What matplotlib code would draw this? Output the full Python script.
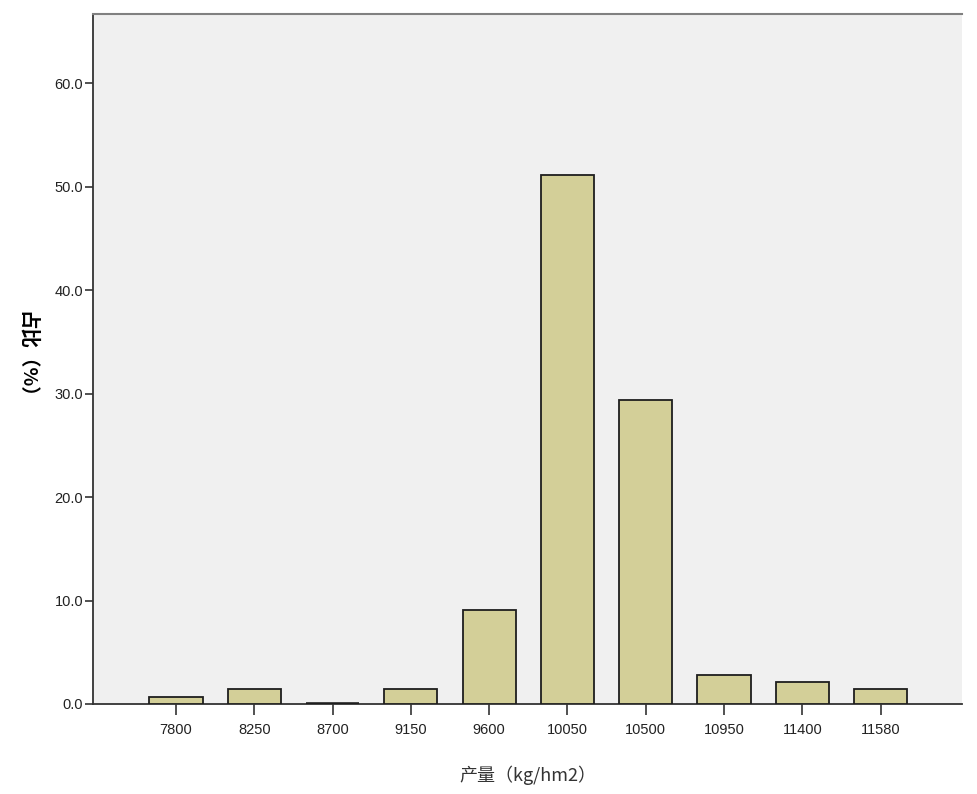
import matplotlib
matplotlib.use("Agg")
import matplotlib.pyplot as plt
from matplotlib import font_manager

# 产量分组及占比(%)
categories = ["7800", "8250", "8700", "9150", "9600", "10050", "10500", "10950", "11400", "11580"]
percent = [0.7, 1.4, 0.0, 1.4, 9.1, 51.1, 29.4, 2.8, 2.1, 1.4]

names = sorted({f.name for f in font_manager.fontManager.ttflist})
latin = "Liberation Sans" if "Liberation Sans" in names else "DejaVu Sans"
plt.rcParams['font.family'] = [latin, 'Noto Sans CJK SC', 'DejaVu Sans']

fig = plt.figure(figsize=(9.78, 7.94), dpi=100)
ax = fig.add_axes([0.0951, 0.1134, 0.8885, 0.869])
ax.set_facecolor("#F0F0F0")

x = list(range(len(categories)))
# 零值组在 SPSS 里画成一条粗黑线
lw = [2.6 if v == 0 else 1.3 for v in percent]
ax.bar(x, percent, width=0.68, color="#D3CF98", edgecolor="#1e1e1e", linewidth=lw, zorder=3)

ax.set_xlim(-1.06, 10.04)
ax.set_ylim(0, 66.7)
ax.set_xticks(x)
ax.set_xticklabels(categories, fontsize=10.5, family=latin, color="#222222")
yt = [0, 10, 20, 30, 40, 50, 60]
ax.set_yticks(yt)
ax.set_yticklabels([f"{v:.1f}" for v in yt], fontsize=10.5, family=latin, color="#222222")
ax.tick_params(axis="x", length=8, width=1.2, color="#333333", pad=6)
ax.tick_params(axis="y", length=6, width=1.2, color="#333333", pad=1)

ax.spines["right"].set_visible(False)
ax.spines["top"].set_color("#808080")
ax.spines["top"].set_linewidth(1.5)
for s in ("left", "bottom"):
    ax.spines[s].set_color("#333333")
    ax.spines[s].set_linewidth(1.3)

ax.set_xlabel("产量（kg/hm2）", fontsize=13, color="#333333", labelpad=20,
              family=['Noto Sans CJK SC', 'DejaVu Sans'])
ax.set_ylabel("占比（%）", fontsize=14, fontweight="bold", rotation=270,
              family=['Noto Sans CJK SC', 'DejaVu Sans'])
ax.yaxis.set_label_coords(-0.088, 0.5)

fig.savefig("out.png", dpi=100)
